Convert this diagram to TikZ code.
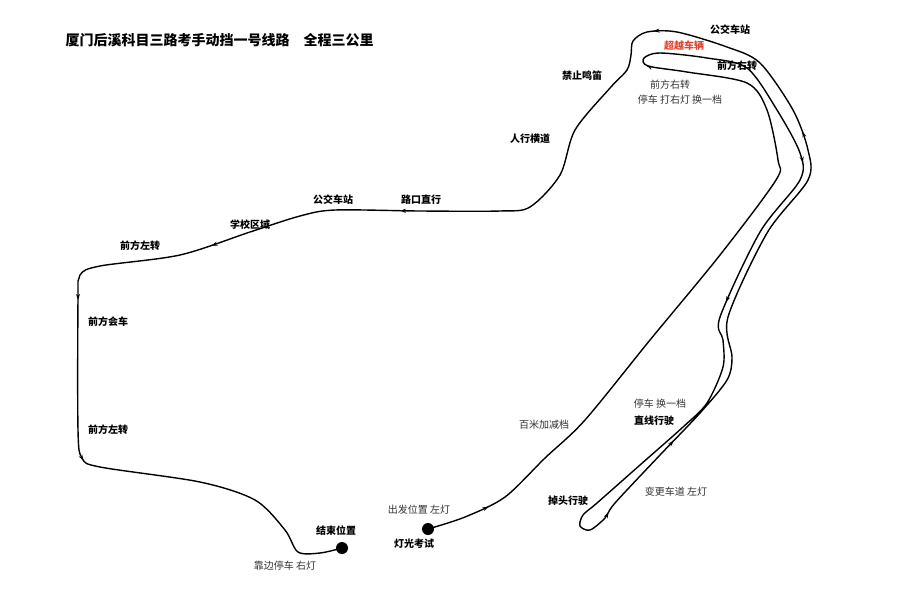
\documentclass[tikz,border=0pt]{standalone}
\usepackage{fontspec}
\setmainfont{Noto Sans CJK SC}
\usetikzlibrary{decorations.markings,arrows.meta}
\begin{document}
\begin{tikzpicture}[x=1pt,y=-1pt,
  lbl/.style={font=\fontsize{10}{12}\selectfont, text=black!80, inner sep=1pt},
  bl/.style={font=\fontsize{10}{12}\selectfont\bfseries, text=black, inner sep=1pt},
  dot/.style={circle,fill=black,minimum size=12pt,inner sep=0pt},
  route/.style={line width=1.4pt, line join=round,
    postaction={decorate,decoration={markings,
      mark=at position 0.02 with {\arrow{Stealth[length=6pt,width=4pt]}},
      mark=at position 0.22 with {\arrow{Stealth[length=6pt,width=4pt]}},
      mark=at position 0.29 with {\arrow{Stealth[length=6pt,width=4pt]}},
      mark=at position 0.34 with {\arrow{Stealth[length=6pt,width=4pt]}},
      mark=at position 0.44 with {\arrow{Stealth[length=6pt,width=4pt]}},
      mark=at position 0.47 with {\arrow{Stealth[length=6pt,width=4pt]}},
      mark=at position 0.58 with {\arrow{Stealth[length=6pt,width=4pt]}},
      mark=at position 0.64 with {\arrow{Stealth[length=6pt,width=4pt]}},
      mark=at position 0.75 with {\arrow{Stealth[length=6pt,width=4pt]}},
      mark=at position 0.81 with {\arrow{Stealth[length=6pt,width=4pt]}},
      mark=at position 0.86 with {\arrow{Stealth[length=6pt,width=4pt]}},
      mark=at position 0.91 with {\arrow{Stealth[length=6pt,width=4pt]}}}}}]
\useasboundingbox[fill=white] (0,0) rectangle (923,590);
\node[dot] (start) at (428,529) {};
\node[dot] (end) at (342,548) {};
\draw[route] plot[smooth,tension=0.5] coordinates {
 (start.center) (465,517) (505,497) (545,458) (585,420) (650,340) (720,255) (776,180)
 (778,160) (767,110) (747,83) (687,72) (648,66) (644,58) (660,53) (707,58) (747,68)
 (777,110) (800,153) (800,180) (760,232) (720,317) (723,340) (723,367) (707,403) (683,427)
 (640,465) (597,503) (583,515) (580,526) (590,530) (605,518) (615,503) (660,455) (700,413)
 (727,380) (732,357) (728,317) (767,233) (808,180) (808,150) (793,110) (760,63) (727,47)
 (677,32) (647,32) (633,41) (631,55) (627,70) (610,88) (575,130) (560,175) (530,207)
 (500,211) (420,211) (335,210) (300,216) (250,232) (180,255) (100,266) (80,275) (78,300)
 (78,430) (82,458) (100,467) (200,482) (255,500) (285,530) (298,552) (320,553) (end.center)};
\node[font=\fontsize{14}{16}\selectfont\bfseries, anchor=west] (title) at (62,40) {厦门后溪科目三路考手动挡一号线路\quad 全程三公里};
\node[bl] (l1) at (730,30) {公交车站};
\node[bl, text={rgb,255:red,225;green,70;blue,50}] (l2) at (684,46) {超越车辆};
\node[bl] (l3) at (737,66) {前方右转};
\node[lbl] (l4) at (670,85) {前方右转};
\node[lbl] (l5) at (680,100) {停车\ 打右灯\ 换一档};
\node[bl] (l6) at (582,76) {禁止鸣笛};
\node[bl] (l7) at (530,139) {人行横道};
\node[bl] (l8) at (421,200) {路口直行};
\node[bl] (l9) at (333,200) {公交车站};
\node[bl] (l10) at (250,225) {学校区域};
\node[bl] (l11) at (140,246) {前方左转};
\node[bl] (l12) at (108,322) {前方会车};
\node[bl] (l13) at (108,430) {前方左转};
\node[lbl] (l14) at (544,425) {百米加减档};
\node[lbl] (l15) at (660,404) {停车\ 换一档};
\node[bl] (l16) at (654,421) {直线行驶};
\node[lbl] (l17) at (676,492) {变更车道\ 左灯};
\node[bl] (l18) at (568,501) {掉头行驶};
\node[lbl] (l19) at (419,510) {出发位置\ 左灯};
\node[bl] (l20) at (414,544) {灯光考试};
\node[bl] (l21) at (336,531) {结束位置};
\node[lbl] (l22) at (285,566) {靠边停车\ 右灯};
\end{tikzpicture}
\end{document}
